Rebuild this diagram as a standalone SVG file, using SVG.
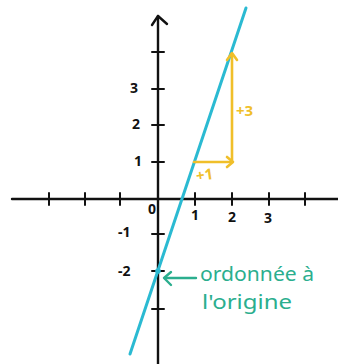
<svg xmlns="http://www.w3.org/2000/svg" width="338" height="364" viewBox="0 0 338 364">
<style>
.ax{stroke:#111;stroke-width:2.4;fill:none;stroke-linecap:round;stroke-linejoin:round}
.tk{stroke:#111;stroke-width:2;fill:none;stroke-linecap:round}
.num{font-family:"Noto Sans","DejaVu Sans",sans-serif;font-size:14px;fill:#111;font-weight:bold}
.yel{stroke:#F0BF2A;stroke-width:2.6;fill:none;stroke-linecap:round;stroke-linejoin:round}
.ytxt{font-family:"Noto Sans","DejaVu Sans",sans-serif;font-size:15px;fill:#F0BF2A;font-weight:bold}
.grn{stroke:#2BAE8E;stroke-width:2.4;fill:none;stroke-linecap:round;stroke-linejoin:round}
.gtxt{font-family:"Noto Sans","DejaVu Sans",sans-serif;font-size:20px;fill:#2BAE8E}
</style>
<rect width="338" height="364" fill="#fff"/>
<g id="axes">
<path class="ax" d="M12 199 L338 199"/>
<path class="ax" d="M158 16 L158 364"/>
<path class="ax" d="M152 25 L158 16 L167 24"/>
<g class="tk">
<path d="M49 193 V205 M85 193 V205 M120 193 V205 M195 193 V205 M232 193 V205 M269 193 V205 M305 193 V205"/>
<path d="M152 52 H164 M152 89 H164 M152 125 H164 M152 162 H164 M152 234 H164 M152 271 H164 M152 309 H164"/>
</g>
<text class="num" x="148" y="214">0</text>
<text class="num" x="191" y="220">1</text>
<text class="num" x="228" y="222">2</text>
<text class="num" x="264" y="223">3</text>
<text class="num" x="118" y="237">-1</text>
<text class="num" x="118" y="276">-2</text>
<text class="num" x="130" y="93">3</text>
<text class="num" x="132" y="129">2</text>
<text class="num" x="134" y="166">1</text>
</g>
<g id="line">
<path d="M246 8 L130 354" stroke="#2BBAD2" stroke-width="3" stroke-linecap="round"/>
<circle cx="158" cy="271" r="2.8" fill="#2BBAD2"/>
</g>
<g id="slope">
<path class="yel" d="M194 162 H232 V54"/>
<path class="yel" d="M227 60 L232 53 L237 60"/>
<path class="yel" d="M227 157 L233 162 L227 167"/>
<text class="ytxt" x="236" y="116">+3</text>
<text class="ytxt" x="196" y="180" transform="rotate(-8 205 175)">+1</text>
</g>
<g id="label">
<path class="grn" d="M196 278 H165"/>
<path class="grn" d="M171 272 L164 278 L171 285"/>
<text class="gtxt" x="200" y="281" textLength="114" lengthAdjust="spacingAndGlyphs">ordonnée à</text>
<text class="gtxt" x="202" y="309" textLength="90" lengthAdjust="spacingAndGlyphs">l'origine</text>
</g>
</svg>
